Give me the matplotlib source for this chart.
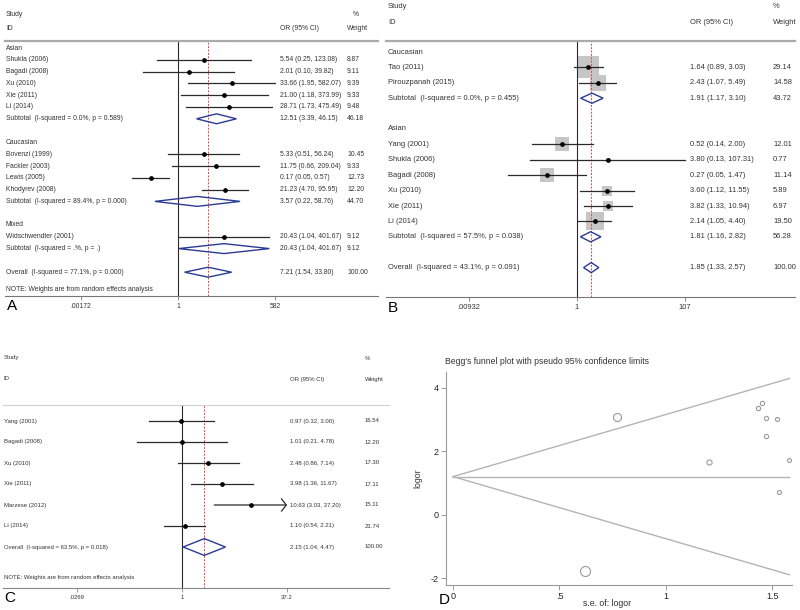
import matplotlib.pyplot as plt
from matplotlib.patches import Polygon
from matplotlib.ticker import NullLocator
from matplotlib.transforms import blended_transform_factory

plt.rcParams['font.family'] = ['Liberation Sans', 'DejaVu Sans']

W, H = 800, 610
TXT = '#333333'
LINE = '#2a2a2a'
DIAM = '#2b3b94'
RED = '#e04848'

# ---------------- data: panel A
a_kind = ['head', 'study', 'study', 'study', 'study', 'study', 'sub', '',
          'head', 'study', 'study', 'study', 'study', 'sub', '',
          'head', 'study', 'sub', '', 'all']
a_label = ['Asian', 'Shukla (2006)', 'Bagadi (2008)', 'Xu (2010)', 'Xie (2011)', 'Li (2014)',
           'Subtotal  (I-squared = 0.0%, p = 0.589)', '',
           'Caucasian', 'Bovenzi (1999)', 'Fackler (2003)', 'Lewis (2005)', 'Khodyrev (2008)',
           'Subtotal  (I-squared = 89.4%, p = 0.000)', '',
           'Mixed', 'Widschwendter (2001)', 'Subtotal  (I-squared = .%, p = .)', '',
           'Overall  (I-squared = 77.1%, p = 0.000)']
a_or = [None, 5.54, 2.01, 33.66, 21.00, 28.71, 12.51, None,
        None, 5.33, 11.75, 0.17, 21.23, 3.57, None,
        None, 20.43, 20.43, None, 7.21]
a_lo = [None, 0.25, 0.10, 1.95, 1.18, 1.73, 3.39, None,
        None, 0.51, 0.66, 0.05, 4.70, 0.22, None,
        None, 1.04, 1.04, None, 1.54]
a_hi = [None, 123.08, 39.82, 582.07, 373.99, 475.49, 46.15, None,
        None, 56.24, 209.04, 0.57, 95.95, 58.76, None,
        None, 401.67, 401.67, None, 33.80]
a_wt = [None, 8.87, 9.11, 9.39, 9.33, 9.48, 46.18, None,
        None, 10.45, 9.33, 12.73, 12.20, 44.70, None,
        None, 9.12, 9.12, None, 100.00]
a_ticks = [0.00172, 1, 582]
a_ticklabels = ['.00172', '1', '582']

# ---------------- data: panel B
b_kind = ['head', 'study', 'study', 'sub', '',
          'head', 'study', 'study', 'study', 'study', 'study', 'study', 'sub', '', 'all']
b_label = ['Caucasian', 'Tao (2011)', 'Pirouzpanah (2015)', 'Subtotal  (I-squared = 0.0%, p = 0.455)', '',
           'Asian', 'Yang (2001)', 'Shukla (2006)', 'Bagadi (2008)', 'Xu (2010)', 'Xie (2011)', 'Li (2014)',
           'Subtotal  (I-squared = 57.5%, p = 0.038)', '', 'Overall  (I-squared = 43.1%, p = 0.091)']
b_or = [None, 1.64, 2.43, 1.91, None, None, 0.52, 3.80, 0.27, 3.60, 3.82, 2.14, 1.81, None, 1.85]
b_lo = [None, 0.89, 1.07, 1.17, None, None, 0.14, 0.13, 0.05, 1.12, 1.33, 1.05, 1.16, None, 1.33]
b_hi = [None, 3.03, 5.49, 3.10, None, None, 2.00, 107.31, 1.47, 11.55, 10.94, 4.40, 2.82, None, 2.57]
b_wt = [None, 29.14, 14.58, 43.72, None, None, 12.01, 0.77, 11.14, 5.89, 6.97, 19.50, 56.28, None, 100.00]
b_ticks = [0.00932, 1, 107]
b_ticklabels = ['.00932', '1', '107']

# ---------------- data: panel C
c_kind = ['study', 'study', 'study', 'study', 'study', 'study', 'all']
c_label = ['Yang (2001)', 'Bagadi (2008)', 'Xu (2010)', 'Xie (2011)', 'Marzese (2012)', 'Li (2014)',
           'Overall  (I-squared = 63.5%, p = 0.018)']
c_or = [0.97, 1.01, 2.48, 3.98, 10.63, 1.10, 2.15]
c_lo = [0.32, 0.21, 0.86, 1.36, 3.03, 0.54, 1.04]
c_hi = [3.00, 4.78, 7.14, 11.67, 37.20, 2.21, 4.47]
c_wt = [16.54, 12.20, 17.30, 17.11, 15.11, 21.74, 100.00]
c_ticks = [0.0269, 1, 37.2]
c_ticklabels = ['.0269', '1', '37.2']

# ---------------- data: panel D (Begg's funnel)
d_se = [0.77, 0.62, 1.20, 1.43, 1.45, 1.47, 1.52, 1.47, 1.58, 1.53]
d_logor = [3.09, -1.78, 1.67, 3.36, 3.52, 3.05, 3.02, 2.47, 1.72, 0.71]
d_pooled = 1.2
d_se_max = 1.58

fig = plt.figure(figsize=(8, 6.1), dpi=100)


def px_axes(x0, x1, y0, y1):
    return fig.add_axes([x0 / W, 1 - y1 / H, (x1 - x0) / W, (y1 - y0) / H])


def ftext(x, y, s, size, **kw):
    fig.text(x / W, 1 - y / H, s, fontsize=size, va='center', **kw)


def forest(kind, label, ors, los, his, wts, ticks, ticklabels, geo, cols, fs, hh,
           boxes=False, note_row=None, arrows=(), top_col='#aaaaaa', top_lw=1.6, bot_col='#777777'):
    xl, xr, ytop, ybot, row0, step, x_one, k = geo
    lab_x, or_x, wt_x = cols
    ax = px_axes(xl, xr, ytop, ybot)
    ax.set_xscale('log')
    ax.set_xlim(10 ** ((xl - x_one) / k), 10 ** ((xr - x_one) / k))
    ax.set_ylim((ybot - row0) / step, -(row0 - ytop) / step)
    ax.set_yticks([])
    for side in ('left', 'right'):
        ax.spines[side].set_visible(False)
    ax.spines['top'].set_color(top_col)
    ax.spines['top'].set_linewidth(top_lw)
    ax.spines['bottom'].set_color(bot_col)
    ax.spines['bottom'].set_linewidth(0.8)
    ax.set_xticks(ticks)
    ax.set_xticklabels(ticklabels)
    ax.xaxis.set_minor_locator(NullLocator())
    ax.tick_params(axis='x', direction='out', length=3, width=0.6, color=bot_col,
                   labelsize=fs, labelcolor=TXT, pad=2)
    ax.patch.set_alpha(0)
    tr = blended_transform_factory(fig.transFigure, ax.transData)

    pooled = ors[kind.index('all')]
    ax.axvline(1, color=LINE, lw=0.8, zorder=2)
    ax.axvline(pooled, color=RED, lw=0.7, ls=(0, (2, 1.5)), zorder=2)

    for i, kd in enumerate(kind):
        if label[i]:
            ax.text(lab_x / W, i, label[i], transform=tr, fontsize=fs, color=TXT, va='center')
        if ors[i] is None:
            continue
        ax.text(or_x / W, i, f'{ors[i]:.2f} ({los[i]:.2f}, {his[i]:.2f})', transform=tr,
                fontsize=fs, color=TXT, va='center')
        ax.text(wt_x / W, i, f'{wts[i]:.2f}', transform=tr, fontsize=fs, color=TXT, va='center')
        if kd == 'study':
            if boxes:
                ax.scatter([ors[i]], [i], s=8.7 * wts[i], marker='s', color='#c6c6c6', lw=0, zorder=1)
            if label[i] in arrows:
                ax.annotate('', xy=(his[i], i), xytext=(los[i], i),
                            arrowprops=dict(arrowstyle='->,head_length=0.35,head_width=0.45',
                                            color=LINE, lw=0.9, mutation_scale=10,
                                            shrinkA=0, shrinkB=0))
            else:
                ax.plot([los[i], his[i]], [i, i], color=LINE, lw=0.9, zorder=3)
            ax.plot([ors[i]], [i], 'o', color='black', ms=2.4, zorder=4)
        else:
            poly = Polygon([(los[i], i), (ors[i], i - hh), (his[i], i), (ors[i], i + hh)],
                           closed=True, fill=False, ec=DIAM, lw=1.0, zorder=4)
            ax.add_patch(poly)
    if note_row is not None:
        ax.text(lab_x / W, note_row, 'NOTE: Weights are from random effects analysis',
                transform=tr, fontsize=fs, color=TXT, va='center')
    return ax


# ---------------- panel A
forest(a_kind, a_label, a_or, a_lo, a_hi, a_wt, a_ticks, a_ticklabels,
       geo=(5, 378, 41, 296, 48, 11.8, 178, 35.1), cols=(6, 280, 347), fs=4.9, hh=0.42,
       note_row=20.5)
ftext(6, 15, 'Study', 4.9, color=TXT)
ftext(6, 28, 'ID', 4.9, color=TXT)
ftext(280, 28, 'OR (95% CI)', 4.9, color=TXT)
ftext(353, 15, '%', 4.9, color=TXT)
ftext(347, 28, 'Weight', 4.9, color=TXT)
ftext(12, 306, 'A', 11, ha='center', color='black')

# ---------------- panel B
forest(b_kind, b_label, b_or, b_lo, b_hi, b_wt, b_ticks, b_ticklabels,
       geo=(386, 795, 41, 297, 52, 15.4, 577, 53.2), cols=(388, 690, 773), fs=5.4, hh=0.33,
       boxes=True)
ftext(388, 6, 'Study', 5.4, color=TXT)
ftext(388, 22, 'ID', 5.4, color=TXT)
ftext(690, 22, 'OR (95% CI)', 5.4, color=TXT)
ftext(773, 6, '%', 5.4, color=TXT)
ftext(773, 22, 'Weight', 5.4, color=TXT)
ftext(393, 308, 'B', 11, ha='center', color='black')

# ---------------- panel C
forest(c_kind, c_label, c_or, c_lo, c_hi, c_wt, c_ticks, c_ticklabels,
       geo=(3, 389, 405, 588, 421, 21.0, 182, 66.9), cols=(4, 290, 365), fs=4.3, hh=0.4,
       note_row=7.43, arrows=('Marzese (2012)',), top_col='#d0d0d0', top_lw=0.8, bot_col='#888888')
ftext(4, 358, 'Study', 4.3, color=TXT)
ftext(4, 379, 'ID', 4.3, color=TXT)
ftext(290, 379, 'OR (95% CI)', 4.3, color=TXT)
ftext(365, 358, '%', 4.3, color=TXT)
ftext(365, 379, 'Weight', 4.3, color=TXT)
ftext(10, 598, 'C', 11, ha='center', color='black')

# ---------------- panel D
axd = px_axes(446, 792, 372, 585)
axd.set_xlim(-0.033, 1.592)
axd.set_ylim(-2.22, 4.50)
for side in ('top', 'right'):
    axd.spines[side].set_visible(False)
for side in ('left', 'bottom'):
    axd.spines[side].set_color('#999999')
    axd.spines[side].set_linewidth(0.8)
axd.plot([0, d_se_max], [d_pooled, d_pooled + 1.96 * d_se_max], color='#b4b4b4', lw=1.0)
axd.plot([0, d_se_max], [d_pooled, d_pooled - 1.96 * d_se_max], color='#b4b4b4', lw=1.0)
axd.plot([0, d_se_max], [d_pooled, d_pooled], color='#b4b4b4', lw=1.0)
for se, lo in zip(d_se, d_logor):
    axd.plot([se], [lo], 'o', mfc='none', mec='#9a9a9a', mew=0.8, ms=4.46 / se, clip_on=False)
axd.set_xticks([0, 0.5, 1, 1.5])
axd.set_xticklabels(['0', '.5', '1', '1.5'])
axd.set_yticks([-2, 0, 2, 4])
axd.set_yticklabels(['-2', '0', '2', '4'])
axd.tick_params(direction='out', length=3.5, width=0.7, color='#999999', labelsize=6.5,
                labelcolor='#222222', pad=1.5)
axd.set_ylabel('logor', fontsize=6.3, color='#333333', labelpad=6)
axd.patch.set_alpha(0)
ftext(607, 603, 's.e. of: logor', 6.3, ha='center', color='#333333')
ftext(445, 361, "Begg's funnel plot with pseudo 95% confidence limits", 6.2, color='#333333')
ftext(444, 600, 'D', 11, ha='center', color='black')

fig.savefig('out.png', dpi=100)
